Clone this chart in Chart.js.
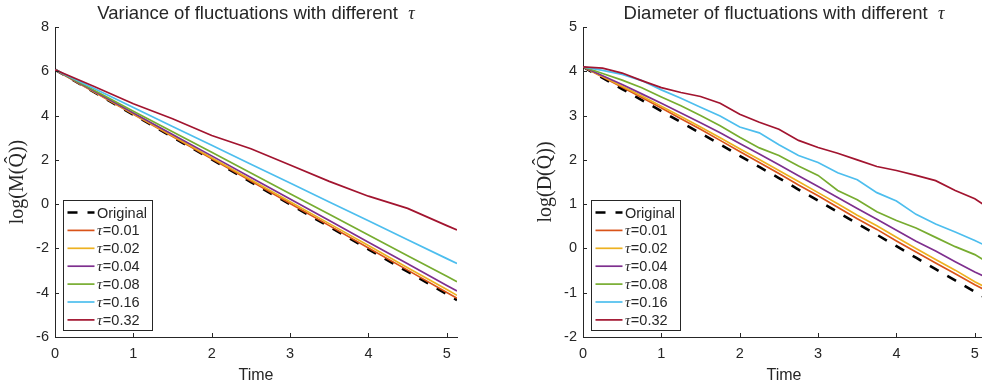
<!DOCTYPE html>
<html>
<head>
<meta charset="utf-8">
<script src="https://cdn.jsdelivr.net/npm/chart.js@4/dist/chart.umd.min.js"></script>
<style>
  html, body { margin: 0; padding: 0; background: #fff; overflow: hidden; }
  #wrap { position: relative; width: 982px; height: 387px; overflow: hidden; }
  canvas { position: absolute; top: 0; }
  #varChart { left: 0; }
  #diamChart { left: 528px; }
</style>
</head>
<body>
<div id="wrap">
  <canvas id="varChart" width="491" height="387"></canvas>
  <canvas id="diamChart" width="470" height="387"></canvas>
</div>
<script>
/* ===============================
   DATA
================================ */
const SERIES_LABELS = ["Original", "τ=0.01", "τ=0.02", "τ=0.04", "τ=0.08", "τ=0.16", "τ=0.32"];
const X_TICKS = [0, 1, 2, 3, 4, 5];
const X_MAX = 5.13;

// left panel: log(M(Q)) vs time
const VAR_TIME = [0, 0.5, 1, 1.5, 2, 2.5, 3, 3.5, 4, 4.5, 5, 5.13];
const VAR_ORIGINAL = [6.07, 5.06, 4.04, 3.03, 2.02, 1.00, -0.01, -1.02, -2.04, -3.05, -4.07, -4.33];
const VAR_TAU_001 = [6.07, 5.06, 4.06, 3.05, 2.05, 1.04, 0.03, -0.97, -1.98, -2.98, -3.99, -4.25];
const VAR_TAU_002 = [6.07, 5.08, 4.08, 3.09, 2.10, 1.10, 0.11, -0.88, -1.87, -2.87, -3.86, -4.12];
const VAR_TAU_004 = [6.07, 5.10, 4.12, 3.15, 2.18, 1.20, 0.23, -0.74, -1.72, -2.69, -3.67, -3.92];
const VAR_TAU_008 = [6.07, 5.14, 4.20, 3.27, 2.34, 1.41, 0.47, -0.46, -1.39, -2.33, -3.26, -3.50];
const VAR_TAU_016 = [6.07, 5.22, 4.36, 3.51, 2.66, 1.80, 0.95, 0.10, -0.75, -1.61, -2.46, -2.68];
const VAR_TAU_032 = [6.07, 5.31, 4.53, 3.86, 3.10, 2.50, 1.77, 1.03, 0.36, -0.19, -0.97, -1.17];
const VAR_Y_TICKS = [-6, -4, -2, 0, 2, 4, 6, 8];

// right panel: log(D(Q)) vs time
const DIAM_TIME = [0, 0.25, 0.5, 0.75, 1, 1.25, 1.5, 1.75, 2, 2.25, 2.5, 2.75, 3, 3.25, 3.5, 3.75, 4, 4.25, 4.5, 4.75, 5, 5.13];
const DIAM_ORIGINAL = [4.10, 3.85, 3.60, 3.35, 3.10, 2.85, 2.60, 2.35, 2.09, 1.84, 1.59, 1.33, 1.08, 0.82, 0.56, 0.31, 0.05, -0.21, -0.47, -0.72, -0.98, -1.11];
const DIAM_TAU_001 = [4.10, 3.87, 3.64, 3.41, 3.17, 2.93, 2.69, 2.44, 2.19, 1.94, 1.69, 1.43, 1.19, 0.93, 0.67, 0.43, 0.17, -0.08, -0.33, -0.57, -0.82, -0.94];
const DIAM_TAU_002 = [4.10, 3.88, 3.66, 3.44, 3.21, 2.98, 2.74, 2.50, 2.25, 2.01, 1.76, 1.51, 1.26, 1.01, 0.75, 0.51, 0.25, 0.00, -0.25, -0.49, -0.75, -0.87];
const DIAM_TAU_004 = [4.10, 3.90, 3.70, 3.49, 3.28, 3.06, 2.84, 2.61, 2.37, 2.13, 1.89, 1.64, 1.40, 1.15, 0.90, 0.66, 0.41, 0.16, -0.06, -0.30, -0.53, -0.64];
const DIAM_TAU_008 = [4.10, 3.95, 3.80, 3.63, 3.42, 3.22, 3.00, 2.77, 2.51, 2.27, 2.10, 1.86, 1.65, 1.31, 1.10, 0.83, 0.63, 0.46, 0.25, 0.04, -0.14, -0.28];
const DIAM_TAU_016 = [4.10, 4.02, 3.93, 3.79, 3.58, 3.39, 3.19, 2.99, 2.74, 2.61, 2.34, 2.10, 1.94, 1.71, 1.55, 1.26, 1.07, 0.77, 0.55, 0.37, 0.18, 0.07];
const DIAM_TAU_032 = [4.10, 4.07, 3.96, 3.79, 3.63, 3.52, 3.43, 3.28, 3.03, 2.85, 2.69, 2.44, 2.28, 2.15, 2.00, 1.85, 1.76, 1.65, 1.53, 1.31, 1.12, 0.97];
const DIAM_Y_TICKS = [-2, -1, 0, 1, 2, 3, 4, 5];

/* ===============================
   STYLE
================================ */
const SERIES_COLORS = ["#000000", "#D95319", "#EDB120", "#7E2F8E", "#77AC30", "#4DBEEE", "#A2142F"];
const TEXT_COLOR = "#262626";
const AXIS_COLOR = "#262626";
const SANS = '"Liberation Sans", Arial, sans-serif';
const SERIF = '"Liberation Serif", "Times New Roman", serif';

/* ===============================
   PLUGINS
================================ */
// title with an italic math tau at the end
const mathTitle = {
  id: "mathTitle",
  afterDraw(chart, args, opts) {
    const { ctx, chartArea } = chart;
    const cx = (chartArea.left + chartArea.right) / 2;
    ctx.save();
    ctx.fillStyle = TEXT_COLOR;
    ctx.textBaseline = "alphabetic";
    const main = opts.text + "  ";
    ctx.font = "18.5px " + SANS;
    const wMain = ctx.measureText(main).width;
    ctx.font = "italic 18px " + SERIF;
    const wTau = ctx.measureText("τ").width;
    let x = cx - (wMain + wTau) / 2;
    ctx.font = "18.5px " + SANS;
    ctx.fillText(main, x, 18.5);
    ctx.font = "italic 18px " + SERIF;
    ctx.fillText("τ", x + wMain, 18.5);
    ctx.restore();
  }
};

// MATLAB style ticks pointing into the axes
const innerTicks = {
  id: "innerTicks",
  afterDraw(chart) {
    const { ctx, chartArea, scales } = chart;
    ctx.save();
    ctx.strokeStyle = AXIS_COLOR;
    ctx.lineWidth = 1;
    ctx.beginPath();
    scales.x.ticks.forEach(t => {
      const px = Math.round(scales.x.getPixelForValue(t.value)) + 0.5;
      ctx.moveTo(px, chartArea.bottom);
      ctx.lineTo(px, chartArea.bottom - 4);
    });
    scales.y.ticks.forEach(t => {
      const py = Math.round(scales.y.getPixelForValue(t.value)) + 0.5;
      ctx.moveTo(chartArea.left, py);
      ctx.lineTo(chartArea.left + 4, py);
    });
    ctx.stroke();
    ctx.restore();
  }
};

// legend box inside the lower left corner
const insideLegend = {
  id: "insideLegend",
  afterDraw(chart) {
    const { ctx, chartArea } = chart;
    const x0 = Math.round(chartArea.left + 8) + 0.5;
    const w = 89, h = 130;
    const y0 = Math.round(chartArea.bottom - 7 - h) + 0.5;
    ctx.save();
    ctx.fillStyle = "#fff";
    ctx.fillRect(x0, y0, w, h);
    ctx.strokeStyle = AXIS_COLOR;
    ctx.lineWidth = 1;
    ctx.strokeRect(x0, y0, w, h);

    chart.data.datasets.forEach((ds, i) => {
      const cy = y0 + 12 + i * 17.9;
      ctx.strokeStyle = ds.borderColor;
      ctx.lineWidth = ds.borderWidth;
      ctx.setLineDash(ds.borderDash || []);
      ctx.beginPath();
      ctx.moveTo(x0 + 4, cy);
      ctx.lineTo(x0 + 31, cy);
      ctx.stroke();
      ctx.setLineDash([]);

      ctx.fillStyle = TEXT_COLOR;
      ctx.textBaseline = "middle";
      let tx = x0 + 33.5;
      let label = ds.label;
      if (label.startsWith("τ")) {
        ctx.font = "italic 15px " + SERIF;
        ctx.fillText("τ", tx, cy + 1);
        tx += ctx.measureText("τ").width + 0.5;
        label = label.slice(1);
      }
      ctx.font = "14.5px " + SANS;
      ctx.fillText(label, tx, cy + 1);
    });
    ctx.restore();
  }
};

/* ===============================
   CHART BUILDER
================================ */
function buildDatasets(time, seriesList) {
  return seriesList.map((vals, i) => ({
    label: SERIES_LABELS[i],
    data: time.map((t, k) => ({ x: t, y: vals[k] })),
    borderColor: SERIES_COLORS[i],
    borderWidth: i === 0 ? 2.6 : 1.7,
    borderDash: i === 0 ? [10, 10] : [],
    order: seriesList.length - i,
    pointRadius: 0,
    fill: false,
    tension: 0
  }));
}

function drawChart(canvas, title, yLabel, time, seriesList, yTicks, padRight) {
  return new Chart(canvas, {
    type: "line",
    data: { datasets: buildDatasets(time, seriesList) },
    options: {
      responsive: false,
      animation: false,
      layout: { padding: { top: 27, right: padRight, left: 0, bottom: 0 } },
      plugins: {
        legend: { display: false },
        title: { display: false },
        tooltip: { enabled: false },
        mathTitle: { text: title }
      },
      scales: {
        x: {
          type: "linear",
          min: 0,
          max: X_MAX,
          afterBuildTicks: s => { s.ticks = X_TICKS.map(v => ({ value: v })); },
          afterFit: s => { s.height = 50; },
          grid: { drawOnChartArea: false, drawTicks: false },
          border: { color: AXIS_COLOR, width: 1 },
          ticks: { color: TEXT_COLOR, font: { family: SANS, size: 14.5 }, padding: 8, maxRotation: 0 },
          title: { display: true, text: "Time", color: TEXT_COLOR, font: { family: SANS, size: 16 }, padding: 2 }
        },
        y: {
          type: "linear",
          min: yTicks[0],
          max: yTicks[yTicks.length - 1],
          afterBuildTicks: s => { s.ticks = yTicks.map(v => ({ value: v })); },
          afterFit: s => { s.width = 55; },
          grid: { drawOnChartArea: false, drawTicks: false },
          border: { color: AXIS_COLOR, width: 1 },
          ticks: { color: TEXT_COLOR, font: { family: SANS, size: 14.5 }, padding: 6 },
          title: { display: true, text: yLabel, color: TEXT_COLOR, font: { family: SERIF, size: 20 }, padding: 6 }
        }
      }
    },
    plugins: [innerTicks, insideLegend, mathTitle]
  });
}

/* ===============================
   RENDER
================================ */
drawChart(
  document.getElementById("varChart"),
  "Variance of fluctuations with different",
  "log(M(Q\u0302))",
  VAR_TIME,
  [VAR_ORIGINAL, VAR_TAU_001, VAR_TAU_002, VAR_TAU_004, VAR_TAU_008, VAR_TAU_016, VAR_TAU_032],
  VAR_Y_TICKS,
  34
);

drawChart(
  document.getElementById("diamChart"),
  "Diameter of fluctuations with different",
  "log(D(Q\u0302))",
  DIAM_TIME,
  [DIAM_ORIGINAL, DIAM_TAU_001, DIAM_TAU_002, DIAM_TAU_004, DIAM_TAU_008, DIAM_TAU_016, DIAM_TAU_032],
  DIAM_Y_TICKS,
  13
);
</script>
</body>
</html>
